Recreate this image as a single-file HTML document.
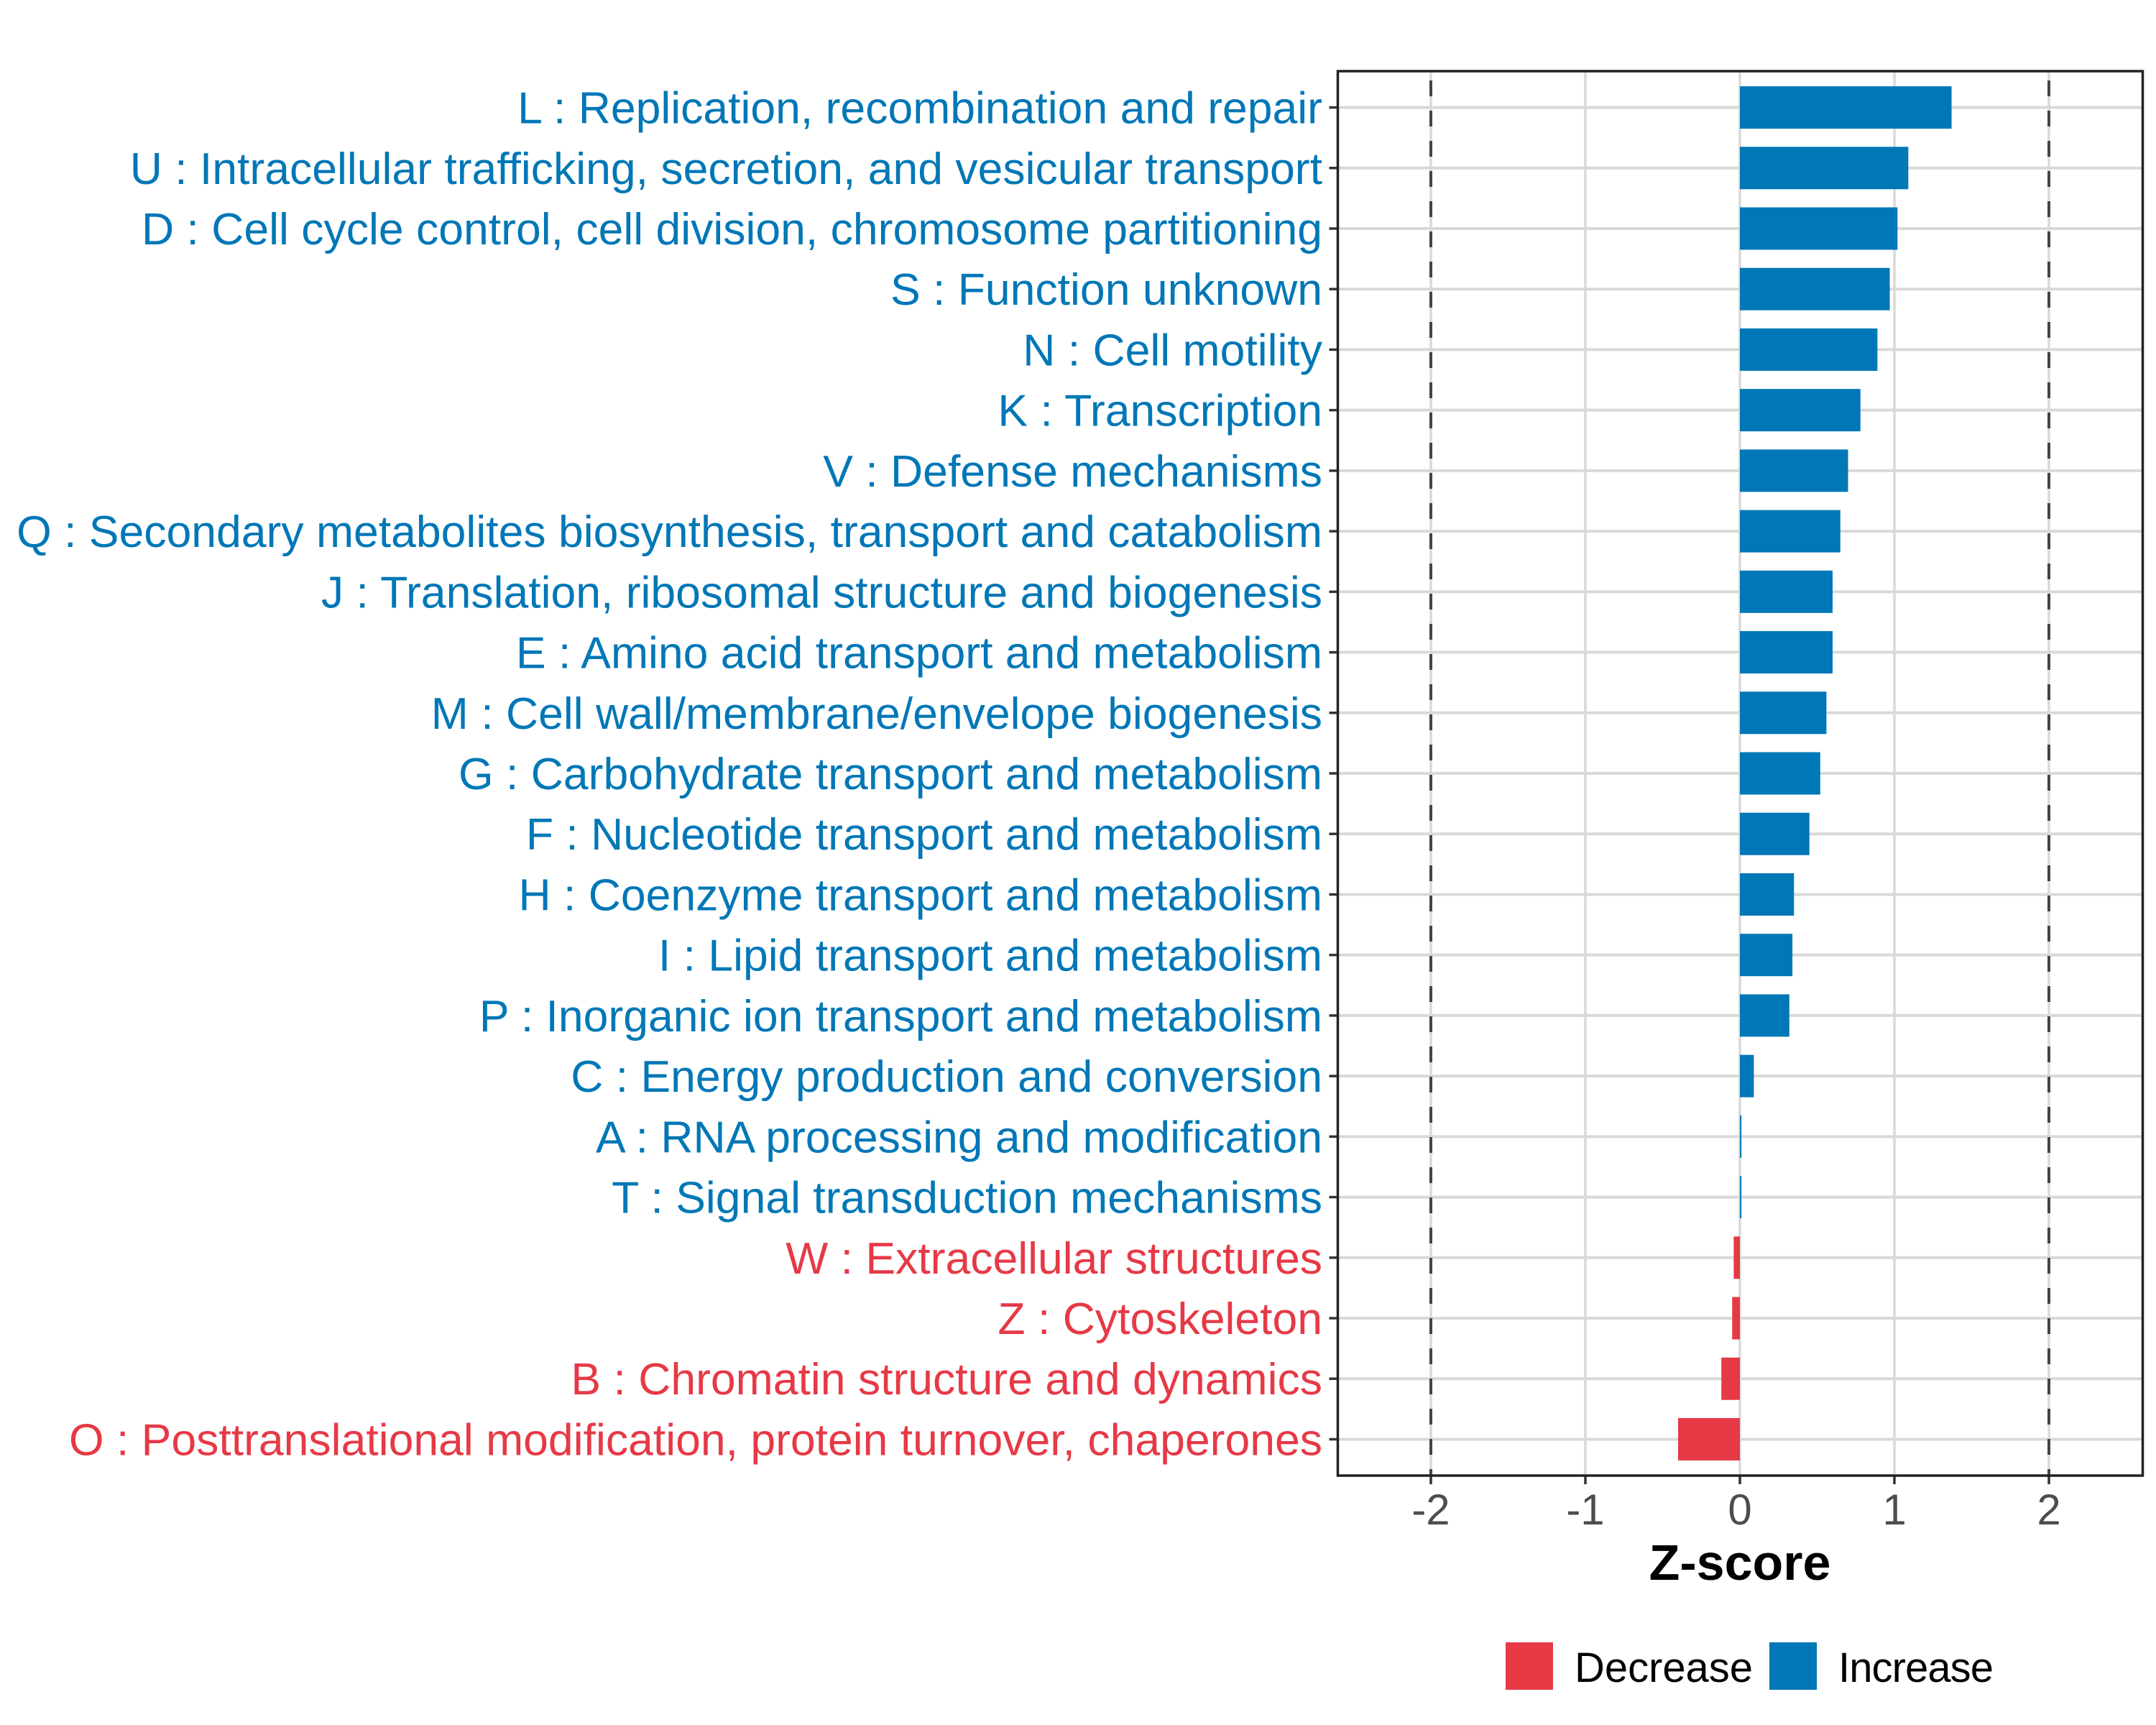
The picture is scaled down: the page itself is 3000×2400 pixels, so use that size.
<!DOCTYPE html>
<html><head><meta charset="utf-8"><style>
html,body{margin:0;padding:0;background:#fff;}
svg{display:block;font-family:"Liberation Sans",Arial,sans-serif;}
</style></head><body>
<svg id="chart" width="3000" height="2400" viewBox="0 0 3000 2400" xmlns="http://www.w3.org/2000/svg">
<rect x="0" y="0" width="3000" height="2400" fill="#fff"/>
<g id="grid"></g>
<g id="bars"></g>
<g id="ylabels"></g>
<g id="xaxis"></g>
<text x="2421" y="2198" text-anchor="middle" font-size="70" font-weight="bold" fill="#000">Z-score</text>
<g>
<rect x="2095" y="2285" width="66" height="66" fill="#E63946"/>
<text x="2191" y="2340" font-size="58" fill="#000" textLength="248">Decrease</text>
<rect x="2462" y="2285" width="66" height="66" fill="#0077B6"/>
<text x="2558" y="2340" font-size="58" fill="#000" textLength="216">Increase</text>
</g>
</svg>
<script>
const categories = [
"L : Replication, recombination and repair",
"U : Intracellular trafficking, secretion, and vesicular transport",
"D : Cell cycle control, cell division, chromosome partitioning",
"S : Function unknown",
"N : Cell motility",
"K : Transcription",
"V : Defense mechanisms",
"Q : Secondary metabolites biosynthesis, transport and catabolism",
"J : Translation, ribosomal structure and biogenesis",
"E : Amino acid transport and metabolism",
"M : Cell wall/membrane/envelope biogenesis",
"G : Carbohydrate transport and metabolism",
"F : Nucleotide transport and metabolism",
"H : Coenzyme transport and metabolism",
"I : Lipid transport and metabolism",
"P : Inorganic ion transport and metabolism",
"C : Energy production and conversion",
"A : RNA processing and modification",
"T : Signal transduction mechanisms",
"W : Extracellular structures",
"Z : Cytoskeleton",
"B : Chromatin structure and dynamics",
"O : Posttranslational modification, protein turnover, chaperones"
];
const zscores = [1.37,1.09,1.02,0.97,0.89,0.78,0.70,0.65,0.60,0.60,0.56,0.52,0.45,0.35,0.34,0.32,0.09,0.01,0.01,-0.04,-0.05,-0.12,-0.40];
const xTicks = [-2,-1,0,1,2];
const xTickLabels = ["-2","-1","0","1","2"];
const thresholds = [-2,2];

const NS="http://www.w3.org/2000/svg";
const panel={left:1861.5,right:2981.5,top:99,bottom:2053};
const x0=2421, unit=215;
function xScale(v){return x0+v*unit;}
const rowStep=(panel.bottom-panel.top)/(categories.length+0.2);
function yScale(i){return panel.top+rowStep*0.6+i*rowStep;}
function mk(tag,attrs,parent){const e=document.createElementNS(NS,tag);for(const k in attrs)e.setAttribute(k,attrs[k]);parent.appendChild(e);return e;}
const BLUE="#0077B6", RED="#E63946";
const grid=document.getElementById('grid'), bars=document.getElementById('bars'), yl=document.getElementById('ylabels'), xa=document.getElementById('xaxis');

xTicks.forEach((t,i)=>{
  const l=mk('line',{x1:xScale(t),x2:xScale(t),y1:panel.top,y2:panel.bottom,stroke:'#d9d9d9','stroke-width':3.5},grid);
  
  
  const tk=mk('line',{x1:xScale(t),x2:xScale(t),y1:panel.bottom,y2:panel.bottom+12,stroke:'#333','stroke-width':3.5},xa);
  
  
  const tx=mk('text',{x:xScale(t),y:2121,'text-anchor':'middle','font-size':60,fill:'#4d4d4d'},xa);
  tx.textContent=xTickLabels[i];
  
  
});
categories.forEach((c,i)=>{
  const y=yScale(i);
  const l=mk('line',{x1:panel.left,x2:panel.right,y1:y,y2:y,stroke:'#d9d9d9','stroke-width':4},grid);
  
  
});
thresholds.forEach(t=>{
  const l=mk('line',{x1:xScale(t),x2:xScale(t),y1:panel.top,y2:panel.bottom,stroke:'#444','stroke-width':4,'stroke-dasharray':'22 20','stroke-dashoffset':'-13'},grid);
  
  
});
categories.forEach((c,i)=>{
  const v=zscores[i], y=yScale(i), h=rowStep*0.7;
  const col=v>=0?BLUE:RED;
  const x1=Math.min(xScale(0),xScale(v)), w=Math.max(Math.abs(xScale(v)-xScale(0)),1.5);
  const r=mk('rect',{x:x1,y:y-h/2,width:w,height:h,fill:col},bars);
  
  
  const tk=mk('line',{x1:panel.left-12,x2:panel.left,y1:y,y2:y,stroke:'#333','stroke-width':3.5},yl);
  
  
  const t=mk('text',{x:1840,y:y+22,'text-anchor':'end','font-size':62.5,fill:col},yl);
  t.textContent=c;
  
  
});
const frame=mk('rect',{x:panel.left,y:panel.top,width:panel.right-panel.left,height:panel.bottom-panel.top,fill:'none',stroke:'#222','stroke-width':3.5},document.getElementById('chart'));


</script>
</body></html>
